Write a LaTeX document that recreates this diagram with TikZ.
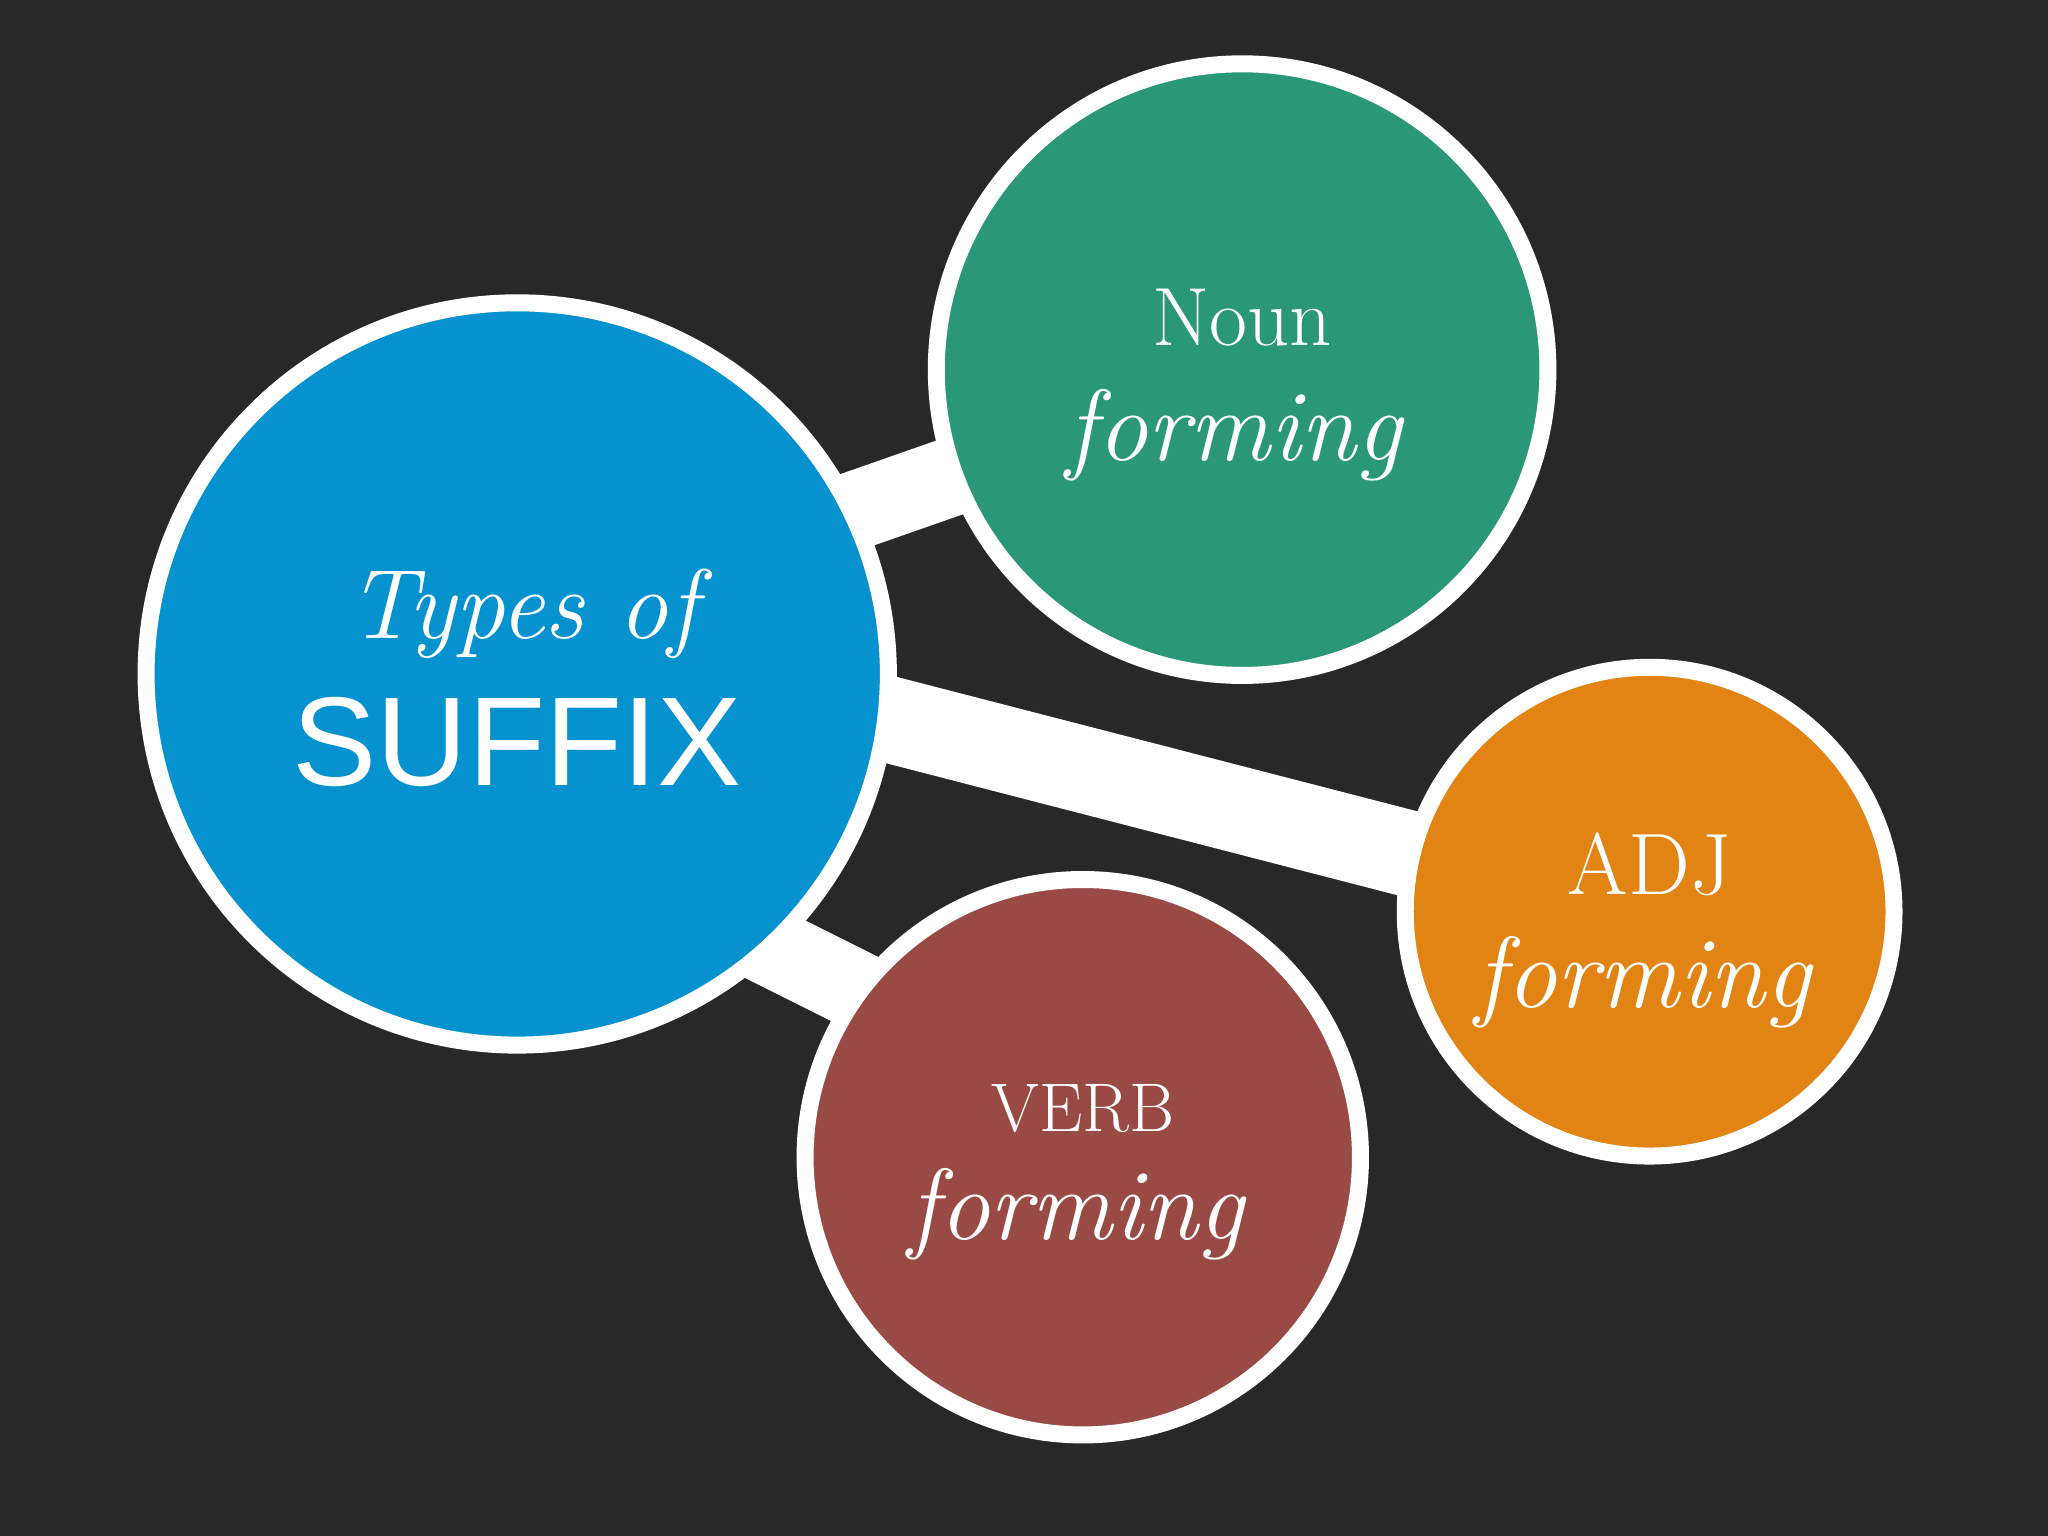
\documentclass[tikz,border=0pt]{standalone}
\usepackage{fontspec}
\newfontfamily\arialf{Liberation Sans}
\begin{document}
\begin{tikzpicture}[x=0.01cm,y=-0.01cm,
  bub/.style={circle,draw=white,line width=0.13cm,text=white,align=center,inner sep=0pt},
  bar/.style={draw=white,line cap=butt}]
\fill[fill={rgb,255:red,40;green,40;blue,40}] (0,0) rectangle (1568,1176);
\useasboundingbox (0,0) rectangle (1568,1176);
\coordinate (cb) at (396,516);
\coordinate (cg) at (951,283);
\coordinate (co) at (1263,698);
\coordinate (cr) at (829,886);
\coordinate (go1) at (600,410); \coordinate (go2) at (800,340);
\coordinate (oo1) at (600,530); \coordinate (oo2) at (1150,672);
\coordinate (ro1) at (540,700); \coordinate (ro2) at (720,790);
\draw[bar,line width=0.6cm] (go1) -- (go2);
\draw[bar,line width=0.66cm] (oo1) -- (oo2);
\draw[bar,line width=0.6cm] (ro1) -- (ro2);
\node[bub,fill={rgb,255:red,5;green,146;blue,206},minimum size=5.68cm] (b) at (cb) {};
\node[bub,fill={rgb,255:red,42;green,152;blue,119},minimum size=4.68cm] (g) at (cg) {};
\node[bub,fill={rgb,255:red,226;green,132;blue,19},minimum size=3.74cm] (o) at (co) {};
\node[bub,fill={rgb,255:red,154;green,74;blue,68},minimum size=4.25cm] (r) at (cr) {};
\node[text=white,font=\fontsize{21.5}{24}\selectfont\itshape] (t1) at (400,470) {Types of};
\node[text=white,font=\arialf\fontsize{27.5}{30}\selectfont] (t2) at (396,568) {SUFFIX};
\node[text=white,font=\fontsize{18}{20}\selectfont] (n1) at (951,243) {Noun};
\node[text=white,font=\fontsize{22}{24}\selectfont\itshape] (n2) at (945,333) {forming};
\node[text=white,font=\fontsize{19}{20}\selectfont] (a1) at (1263,662) {ADJ};
\node[text=white,font=\fontsize{22}{24}\selectfont\itshape] (a2) at (1258,752) {forming};
\node[text=white,font=\fontsize{15}{18}\selectfont] (v1) at (829,849) {VERB};
\node[text=white,font=\fontsize{22}{24}\selectfont\itshape] (v2) at (824,930) {forming};
\end{tikzpicture}
\end{document}
